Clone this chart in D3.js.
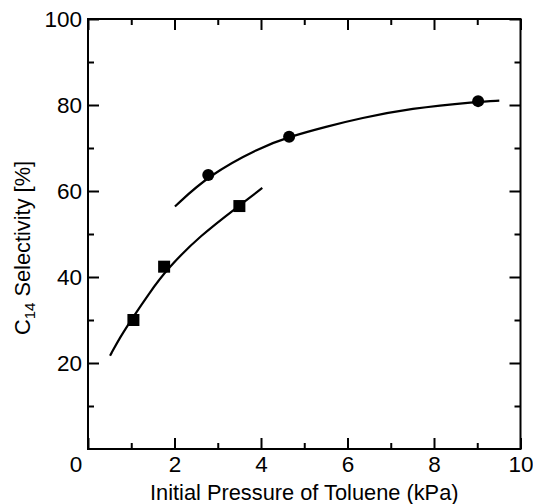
<!DOCTYPE html>
<html>
<head>
<meta charset="utf-8">
<script src="https://cdn.jsdelivr.net/npm/d3@7.9.0/dist/d3.min.js"></script>
<style>
  body { margin: 0; background: #fff; }
  svg text { font-family: "Liberation Sans", Arial, sans-serif; fill: #000; }
</style>
</head>
<body>
<svg id="chart" width="533" height="504"></svg>
<script>
// measured points
const circlePts = [
  { x: 2.78, y: 63.7 },
  { x: 4.65, y: 72.6 },
  { x: 9.02, y: 80.9 }
];
const squarePts = [
  { x: 1.05, y: 30.0 },
  { x: 1.76, y: 42.4 },
  { x: 3.50, y: 56.5 }
];
// fitted curves
const circleCurve = [
  [2.01, 56.4], [2.78, 63.6], [3.97, 70.1], [4.65, 72.6], [5.52, 75.0],
  [6.29, 76.9], [7.44, 79.2], [9.02, 80.8], [9.51, 81.0]
];
const squareCurve = [
  [0.51, 21.7], [0.74, 26.0], [1.05, 30.8], [1.40, 36.0], [1.82, 41.8],
  [2.59, 49.6], [3.50, 56.6], [4.03, 60.7]
];
const xMajor = [0, 2, 4, 6, 8, 10];
const xMinor = [1, 3, 5, 7, 9];
const yMajor = [20, 40, 60, 80, 100];
const yMinor = [10, 30, 50, 70, 90];

const svg = d3.select('#chart');
const plotL = 88, plotR = 520.5, plotT = 19, plotB = 449;

const x = d3.scaleLinear().domain([0, 10]).range([plotL, plotR]);
const y = d3.scaleLinear().domain([0, 100]).range([plotB, plotT]);

function styleAxis(g) {
  g.select('.domain').remove();
  g.selectAll('line').attr('stroke', '#000').attr('stroke-width', 2);
  g.selectAll('text').attr('font-size', 22.5).attr('fill', '#000');
}

// bottom axis with labels
const gx = svg.append('g')
  .attr('transform', `translate(0,${plotB})`)
  .call(d3.axisBottom(x).tickValues(xMajor).tickSizeInner(-11).tickSizeOuter(0).tickPadding(7))
  .call(styleAxis);
gx.selectAll('.tick').filter(d => d === 0).select('text').attr('x', -12.5);
svg.append('g')
  .attr('transform', `translate(0,${plotB})`)
  .call(d3.axisBottom(x).tickValues(xMinor).tickSizeInner(-6).tickSizeOuter(0).tickFormat(''))
  .call(styleAxis);

// top axis
svg.append('g')
  .attr('transform', `translate(0,${plotT})`)
  .call(d3.axisTop(x).tickValues(xMajor).tickSizeInner(-11).tickSizeOuter(0).tickFormat(''))
  .call(styleAxis);
svg.append('g')
  .attr('transform', `translate(0,${plotT})`)
  .call(d3.axisTop(x).tickValues(xMinor).tickSizeInner(-6).tickSizeOuter(0).tickFormat(''))
  .call(styleAxis);

// left axis
svg.append('g')
  .attr('transform', `translate(${plotL},0)`)
  .call(d3.axisLeft(y).tickValues(yMajor).tickSizeInner(-11).tickSizeOuter(0).tickPadding(6))
  .call(styleAxis);
svg.append('g')
  .attr('transform', `translate(${plotL},0)`)
  .call(d3.axisLeft(y).tickValues(yMinor).tickSizeInner(-6).tickSizeOuter(0).tickFormat(''))
  .call(styleAxis);

// right axis
svg.append('g')
  .attr('transform', `translate(${plotR},0)`)
  .call(d3.axisRight(y).tickValues(yMajor).tickSizeInner(-11).tickSizeOuter(0).tickFormat(''))
  .call(styleAxis);
svg.append('g')
  .attr('transform', `translate(${plotR},0)`)
  .call(d3.axisRight(y).tickValues(yMinor).tickSizeInner(-6).tickSizeOuter(0).tickFormat(''))
  .call(styleAxis);

// frame
svg.append('rect')
  .attr('x', plotL).attr('y', plotT)
  .attr('width', plotR - plotL).attr('height', plotB - plotT)
  .attr('fill', 'none').attr('stroke', '#000').attr('stroke-width', 2);

// curves
const line = d3.line()
  .x(d => x(d[0]))
  .y(d => y(d[1]))
  .curve(d3.curveBasis);

[circleCurve, squareCurve].forEach(pts => {
  svg.append('path')
    .attr('d', line(pts))
    .attr('fill', 'none')
    .attr('stroke', '#000')
    .attr('stroke-width', 2.2);
});

// markers
svg.selectAll('circle.pt')
  .data(circlePts)
  .join('circle')
  .attr('class', 'pt')
  .attr('cx', d => x(d.x))
  .attr('cy', d => y(d.y))
  .attr('r', 6)
  .attr('fill', '#000');

svg.selectAll('rect.pt')
  .data(squarePts)
  .join('rect')
  .attr('class', 'pt')
  .attr('x', d => x(d.x) - 6)
  .attr('y', d => y(d.y) - 6)
  .attr('width', 12)
  .attr('height', 12)
  .attr('fill', '#000');

// axis titles
svg.append('text')
  .attr('x', (plotL + plotR) / 2)
  .attr('y', 500)
  .attr('text-anchor', 'middle')
  .attr('font-size', 21.8)
  .text('Initial Pressure of Toluene (kPa)');

const yt = svg.append('text')
  .attr('transform', 'translate(30,248) rotate(-90)')
  .attr('text-anchor', 'middle')
  .attr('font-size', 21.8);
yt.append('tspan').text('C');
yt.append('tspan').attr('font-size', 15).attr('dy', 5).text('14');
yt.append('tspan').attr('dy', -5).text(' Selectivity [%]');
</script>
</body>
</html>
